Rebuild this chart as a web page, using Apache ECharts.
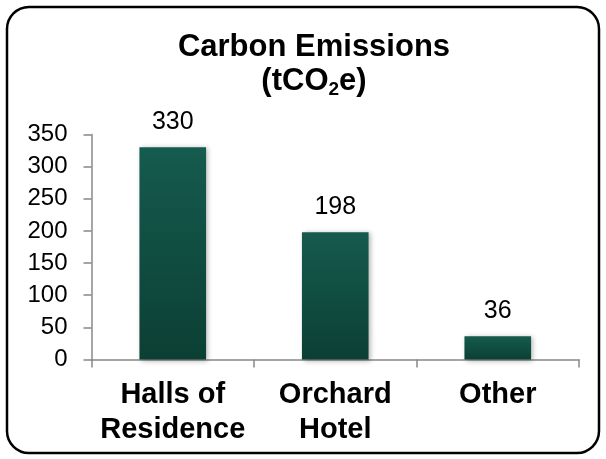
<!DOCTYPE html>
<html>
<head>
<meta charset="utf-8">
<script src="https://cdn.jsdelivr.net/npm/echarts@6/dist/echarts.min.js"></script>
<style>
  html, body { margin: 0; padding: 0; background: #fff; }
  #chart { width: 606px; height: 459px; }
</style>
</head>
<body>
<div id="chart"></div>
<script>
// Emissions by source, tonnes CO2 equivalent
const categories = ['Halls of\nResidence', 'Orchard\nHotel', 'Other'];
const emissions = [330, 198, 36];
const yTicks = [0, 50, 100, 150, 200, 250, 300, 350];

const FONT = 'Liberation Sans, Arial, sans-serif';
const chart = echarts.init(document.getElementById('chart'), null, { renderer: 'canvas' });

chart.setOption({
  backgroundColor: '#ffffff',
  animation: false,
  title: {
    text: 'Carbon Emissions\n(tCO{sub|2}e)',
    left: 309,
    textAlign: 'center',
    top: 25,
    textStyle: {
      fontFamily: FONT,
      fontSize: 31,
      fontWeight: 'bold',
      color: '#000',
      lineHeight: 34,
      rich: {
        sub: {
          fontFamily: FONT,
          fontSize: 19,
          fontWeight: 'bold',
          color: '#000',
          padding: [17, 0, 0, 0]
        }
      }
    }
  },
  graphic: [{
    type: 'rect',
    shape: { x: 7, y: 7, width: 592, height: 446, r: 22 },
    style: { fill: 'none', stroke: '#000', lineWidth: 2.5 },
    silent: true,
    z: 100
  }],
  grid: { left: 91.5, right: 27, top: 134.5, bottom: 99.5, containLabel: false },
  xAxis: {
    type: 'category',
    data: categories,
    axisLine: { lineStyle: { color: '#888', width: 1.5 } },
    axisTick: { show: true, length: 8, lineStyle: { color: '#888', width: 1.5 } },
    axisLabel: {
      interval: 0,
      hideOverlap: false,
      fontFamily: FONT,
      fontSize: 29,
      fontWeight: 'bold',
      color: '#000',
      lineHeight: 35,
      margin: 18
    }
  },
  yAxis: {
    type: 'value',
    min: yTicks[0],
    max: yTicks[yTicks.length - 1],
    interval: yTicks[1] - yTicks[0],
    splitLine: { show: false },
    axisLine: { show: true, lineStyle: { color: '#888', width: 1.5 } },
    axisTick: { show: true, length: 8, lineStyle: { color: '#888', width: 1.5 } },
    axisLabel: {
      fontFamily: FONT,
      fontSize: 24,
      color: '#000',
      margin: 24
    }
  },
  series: [{
    type: 'bar',
    data: emissions,
    barWidth: '41%',
    itemStyle: {
      color: new echarts.graphic.LinearGradient(0, 0, 0, 1, [
        { offset: 0, color: '#155b4e' },
        { offset: 1, color: '#0c3f34' }
      ]),
      shadowColor: 'rgba(0,0,0,0.3)',
      shadowBlur: 5,
      shadowOffsetX: 2,
      shadowOffsetY: 1
    },
    label: {
      show: true,
      position: 'top',
      distance: 13,
      fontFamily: FONT,
      fontSize: 25,
      color: '#000'
    }
  }]
});
</script>
</body>
</html>
